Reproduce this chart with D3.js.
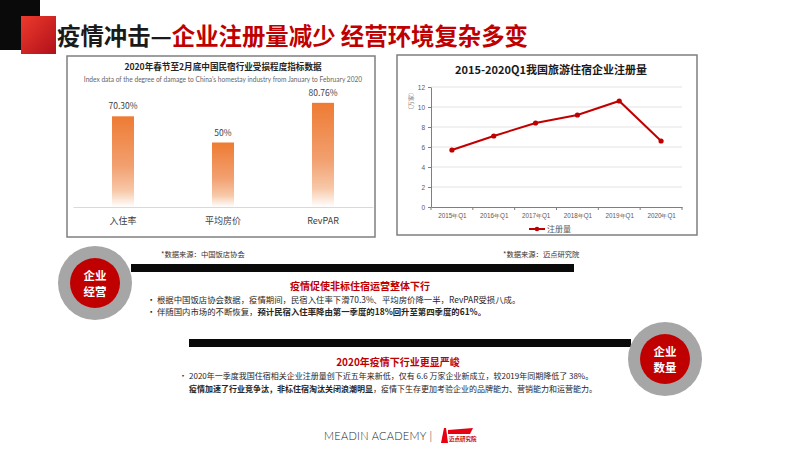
<!DOCTYPE html>
<html>
<head>
<meta charset="utf-8">
<script src="https://cdn.jsdelivr.net/npm/d3@7"></script>
<style>
  body { margin: 0; background: #fff; }
  svg { display: block; font-family: "Noto Sans CJK SC", "Noto Sans", sans-serif; }
</style>
</head>
<body>
<svg id="slide" width="800" height="450"></svg>
<script>
// bar chart data (left)
const barCats = ["入住率", "平均房价", "RevPAR"];
const barVals = [70.30, 50, 80.76];
const barLabels = ["70.30%", "50%", "80.76%"];

// line chart data (right)
const lineCats = ["2015年Q1", "2016年Q1", "2017年Q1", "2018年Q1", "2019年Q1", "2020年Q1"];
const lineVals = [5.7, 7.1, 8.4, 9.2, 10.6, 6.6];
const yTicks = [0, 2, 4, 6, 8, 10, 12];

const red = "#c00000";
let svg = d3.select("#slide");
let defs = svg.append("defs");

// header blocks
let hg = defs.append("linearGradient").attr("id", "hdr").attr("x1", 0).attr("y1", 0).attr("x2", 1).attr("y2", 1);
hg.append("stop").attr("offset", "0%").attr("stop-color", "#ee3a2c");
hg.append("stop").attr("offset", "100%").attr("stop-color", "#b0101a");
svg.append("rect").attr("x", 0).attr("y", 0).attr("width", 40).attr("height", 50).attr("fill", "#0a0a0a");
svg.append("rect").attr("x", 21).attr("y", 16).attr("width", 35).attr("height", 38).attr("fill", "url(#hdr)");

let title = svg.append("text").attr("x", 57).attr("y", 45)
    .attr("font-size", 23.4).attr("font-weight", "bold");
title.append("tspan").attr("fill", "#1a1a1a").text("疫情冲击—");
title.append("tspan").attr("fill", red).text("企业注册量减少 经营环境复杂多变");

// ---------- left panel: bar chart ----------
svg.append("rect").attr("x", 67).attr("y", 56).attr("width", 308).attr("height", 181)
    .attr("fill", "#fff").attr("stroke", "#7f7f7f").attr("stroke-width", 1.5);

svg.append("text").attr("x", 223).attr("y", 70).attr("text-anchor", "middle")
    .attr("font-size", 8.6).attr("font-weight", "bold").attr("fill", "#262626")
    .text("2020年春节至2月底中国民宿行业受损程度指标数据");
svg.append("text").attr("x", 223).attr("y", 82).attr("text-anchor", "middle")
    .attr("font-size", 6.6).attr("fill", "#666").attr("font-family", "Lato, sans-serif")
    .text("Index data of the degree of damage to China’s homestay industry from January to February 2020");

let bg = defs.append("linearGradient").attr("id", "barGrad").attr("x1", 0).attr("y1", 0).attr("x2", 0).attr("y2", 1);
bg.append("stop").attr("offset", "0%").attr("stop-color", "#ee7b33");
bg.append("stop").attr("offset", "55%").attr("stop-color", "#f2a070");
bg.append("stop").attr("offset", "82%").attr("stop-color", "#f7c8a8");
bg.append("stop").attr("offset", "100%").attr("stop-color", "#ffffff");

let bx = d3.scaleBand().domain(barCats).range([73, 373]).paddingInner(0.78).paddingOuter(0.39);
let by = d3.scaleLinear().domain([0, 100]).range([207, 78]);

svg.append("g").selectAll("rect").data(barVals).enter().append("rect")
    .attr("x", (d, i) => bx(barCats[i]))
    .attr("y", d => by(d))
    .attr("width", bx.bandwidth())
    .attr("height", d => by(0) - by(d))
    .attr("fill", "url(#barGrad)");

svg.append("g").selectAll("text").data(barVals).enter().append("text")
    .attr("x", (d, i) => bx(barCats[i]) + bx.bandwidth() / 2)
    .attr("y", d => by(d) - 7)
    .attr("text-anchor", "middle").attr("font-size", 8.5).attr("fill", "#404040")
    .text((d, i) => barLabels[i]);

let bxAxis = svg.append("g").attr("transform", "translate(0,207)")
    .call(d3.axisBottom(bx).tickSize(0).tickPadding(11));
bxAxis.select(".domain").attr("stroke", "#d9d9d9");
bxAxis.selectAll("text").attr("font-size", 9).attr("fill", "#404040")
    .attr("font-family", "Noto Sans CJK SC, sans-serif");

// ---------- right panel: line chart ----------
svg.append("rect").attr("x", 397).attr("y", 55).attr("width", 300).attr("height", 180)
    .attr("fill", "#fff").attr("stroke", "#7f7f7f").attr("stroke-width", 1.5);

svg.append("text").attr("x", 551).attr("y", 74).attr("text-anchor", "middle")
    .attr("font-size", 11).attr("font-weight", "bold").attr("fill", "#1a1a1a")
    .text("2015-2020Q1我国旅游住宿企业注册量");

let lx = d3.scalePoint().domain(lineCats).range([431, 682]).padding(0.5);
let lxb = d3.scaleBand().domain(lineCats).range([431, 682]);
let ly = d3.scaleLinear().domain([0, 12]).range([207, 87]);

svg.append("g").selectAll("line").data(yTicks.filter(d => d > 0)).enter().append("line")
    .attr("x1", 431).attr("x2", 682).attr("y1", d => ly(d)).attr("y2", d => ly(d))
    .attr("stroke", "#e3e3e3").attr("stroke-width", 1);

let yAx = svg.append("g").attr("transform", "translate(431,0)")
    .call(d3.axisLeft(ly).tickValues(yTicks).tickSize(3).tickPadding(3).tickSizeOuter(0));
yAx.select(".domain").attr("stroke", "#7f7f7f");
yAx.selectAll(".tick line").attr("stroke", "#7f7f7f");
yAx.selectAll("text").attr("font-size", 6.5).attr("fill", "#595959");

let xAx = svg.append("g").attr("transform", "translate(0,207)")
    .call(d3.axisBottom(lx).tickSize(0).tickPadding(7).tickSizeOuter(0));
xAx.select(".domain").attr("stroke", "#7f7f7f");
xAx.selectAll("text").attr("font-size", 6.3).attr("fill", "#595959");
svg.append("g").selectAll("line").data(lineCats.map(c => lxb(c)).concat([682])).enter().append("line")
    .attr("x1", d => d).attr("x2", d => d).attr("y1", 207).attr("y2", 210)
    .attr("stroke", "#7f7f7f");

svg.append("text").attr("transform", "translate(413,101) rotate(-90)")
    .attr("text-anchor", "middle").attr("font-size", 6).attr("fill", "#7f7f7f")
    .text("（万家）");

let line = d3.line().x((d, i) => lx(lineCats[i])).y(d => ly(d));
svg.append("path").datum(lineVals).attr("d", line)
    .attr("fill", "none").attr("stroke", red).attr("stroke-width", 2);
svg.append("g").selectAll("circle").data(lineVals).enter().append("circle")
    .attr("cx", (d, i) => lx(lineCats[i])).attr("cy", d => ly(d)).attr("r", 2.6)
    .attr("fill", red);

// legend
svg.append("line").attr("x1", 529).attr("x2", 545).attr("y1", 229).attr("y2", 229)
    .attr("stroke", red).attr("stroke-width", 2);
svg.append("circle").attr("cx", 537).attr("cy", 229).attr("r", 2.3).attr("fill", red);
svg.append("text").attr("x", 547).attr("y", 232).attr("font-size", 8).attr("fill", "#595959").text("注册量");

// sources
svg.append("text").attr("x", 161).attr("y", 257).attr("font-size", 7.3).attr("fill", "#333").text("*数据来源：中国饭店协会");
svg.append("text").attr("x", 503).attr("y", 257).attr("font-size", 7.3).attr("fill", "#333").text("*数据来源：迈点研究院");

// ---------- section 1 ----------
svg.append("rect").attr("x", 131).attr("y", 264).attr("width", 443).attr("height", 8).attr("fill", "#0a0a0a");

function badge(cx, cy, l1, l2) {
    svg.append("circle").attr("cx", cx).attr("cy", cy).attr("r", 37).attr("fill", "#a6a6a6");
    svg.append("circle").attr("cx", cx).attr("cy", cy).attr("r", 25).attr("fill", red);
    svg.append("text").attr("x", cx).attr("y", cy - 3).attr("text-anchor", "middle")
        .attr("font-size", 11.5).attr("font-weight", "bold").attr("fill", "#fff").text(l1);
    svg.append("text").attr("x", cx).attr("y", cy + 13).attr("text-anchor", "middle")
        .attr("font-size", 11.5).attr("font-weight", "bold").attr("fill", "#fff").text(l2);
}
badge(95, 283, "企业", "经营");

svg.append("text").attr("x", 360).attr("y", 290).attr("text-anchor", "middle")
    .attr("font-size", 10).attr("font-weight", "bold").attr("fill", red)
    .text("疫情促使非标住宿运营整体下行");

function bulletLine(x, y, parts, dot, fs) {
    if (dot) svg.append("text").attr("x", x - 10).attr("y", y).attr("font-size", fs).attr("fill", "#262626").text("•");
    let t = svg.append("text").attr("x", x).attr("y", y).attr("font-size", fs).attr("fill", "#262626");
    parts.forEach(p => t.append("tspan").attr("font-weight", p[1] ? "bold" : "normal").text(p[0]));
}
bulletLine(157, 303, [["根据中国饭店协会数据，疫情期间，民宿入住率下滑70.3%、平均房价降一半，RevPAR受损八成。", false]], true, 8.4);
bulletLine(157, 315, [["伴随国内市场的不断恢复，", false], ["预计民宿入住率降由第一季度的18%回升至第四季度的61%。", true]], true, 8.4);

// ---------- section 2 ----------
svg.append("rect").attr("x", 189).attr("y", 339).attr("width", 442).attr("height", 8).attr("fill", "#0a0a0a");
badge(665, 359, "企业", "数量");

svg.append("text").attr("x", 398).attr("y", 366).attr("text-anchor", "middle")
    .attr("font-size", 10).attr("font-weight", "bold").attr("fill", red)
    .text("2020年疫情下行业更显严峻");
bulletLine(189, 379, [["2020年一季度我国住宿相关企业注册量创下近五年来新低，仅有 6.6 万家企业新成立，较2019年同期降低了 38%。", false]], true, 8);
bulletLine(189, 392, [["疫情加速了行业竞争汰，非标住宿淘汰关闭浪潮明显", true], ["，疫情下生存更加考验企业的品牌能力、营销能力和运营能力。", false]], false, 8);

// ---------- footer ----------
svg.append("text").attr("x", 324).attr("y", 440).attr("font-size", 11)
    .attr("font-family", "Lato, sans-serif").attr("font-weight", 300).attr("fill", "#262626")
    .attr("textLength", 108).text("MEADIN ACADEMY |");
svg.append("path").attr("d", "M441,443 L444,428 L446,428 L448,443 Z").attr("fill", "#e60012");
svg.append("path").attr("d", "M448,430 L473,428 L470,434 L448,434 Z").attr("fill", "#e60012");
svg.append("text").attr("x", 449).attr("y", 441).attr("font-size", 5.5).attr("font-weight", "bold")
    .attr("fill", "#c00000").text("迈点研究院");
</script>
</body>
</html>
